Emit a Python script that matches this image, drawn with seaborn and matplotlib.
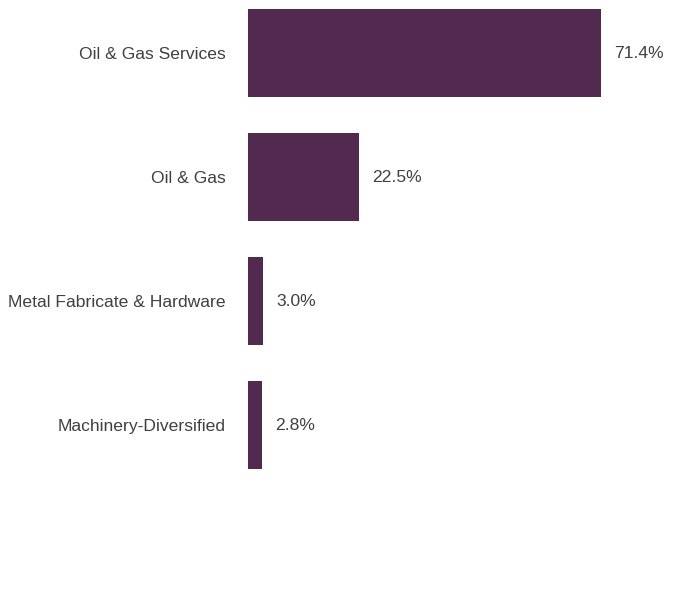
import matplotlib
matplotlib.use("Agg")
import matplotlib.pyplot as plt
import pandas as pd
import seaborn as sns

# sector allocation
sectors = ["Oil & Gas Services", "Oil & Gas", "Metal Fabricate & Hardware", "Machinery-Diversified"]
weights = [71.4, 22.5, 3.0, 2.8]
value_labels = ["71.4%", "22.5%", "3.0%", "2.8%"]

bar_color = "#52294F"
text_color = "#404040"

sns.set_theme(style="white")
plt.rcParams["font.family"] = ["Liberation Sans", "DejaVu Sans"]

df = pd.DataFrame({"sector": sectors, "weight": weights})

fig = plt.figure(figsize=(6.96, 6.0), dpi=100)
ax = fig.add_axes([248 / 696, 0, 448 / 696, 1])

sns.barplot(data=df, x="weight", y="sector", orient="h", color=bar_color,
            saturation=1, width=0.71, linewidth=0, ax=ax)

for patch, label in zip(ax.patches, value_labels):
    ax.annotate(label, (patch.get_width(), patch.get_y() + patch.get_height() / 2),
                xytext=(9.5, 0), textcoords="offset points", va="center", ha="left",
                fontsize=12.6, color=text_color)

ax.set_xlim(0, 448 / 4.944)
ax.set_ylim((600 - 53) / 124, -53 / 124)

ax.set_xlabel("")
ax.set_ylabel("")
ax.set_xticks([])
ax.tick_params(axis="y", length=0, pad=16, labelsize=12.6, labelcolor=text_color)
sns.despine(ax=ax, left=True, bottom=True)

fig.savefig("out.png", dpi=100)
